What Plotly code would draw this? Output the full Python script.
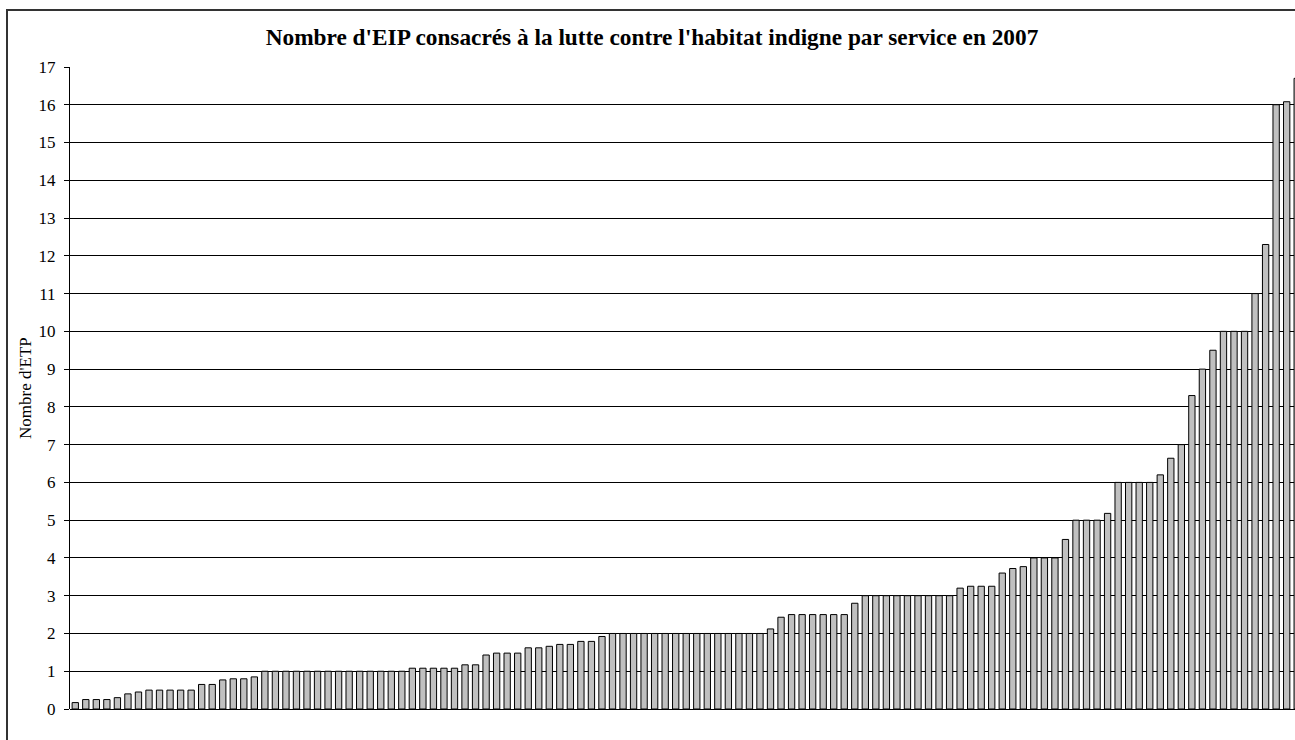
import plotly.graph_objects as go

title_text = "Nombre d'EIP consacrés à la lutte contre l'habitat indigne par service en 2007"
y_title = "Nombre d'ETP"

etp = [
    0.17, 0.25, 0.25, 0.25, 0.30, 0.40, 0.45, 0.50, 0.50, 0.50,
    0.50, 0.50, 0.65, 0.65, 0.77, 0.80, 0.80, 0.85, 1.00, 1.00,
    1.00, 1.00, 1.00, 1.00, 1.00, 1.00, 1.00, 1.00, 1.00, 1.00,
    1.00, 1.00, 1.08, 1.08, 1.08, 1.08, 1.08, 1.17, 1.17, 1.43,
    1.48, 1.48, 1.48, 1.62, 1.62, 1.66, 1.71, 1.71, 1.79, 1.79,
    1.92, 2.00, 2.00, 2.00, 2.00, 2.00, 2.00, 2.00, 2.00, 2.00,
    2.00, 2.00, 2.00, 2.00, 2.00, 2.00, 2.12, 2.43, 2.50, 2.50,
    2.50, 2.50, 2.50, 2.50, 2.80, 3.00, 3.00, 3.00, 3.00, 3.00,
    3.00, 3.00, 3.00, 3.00, 3.20, 3.25, 3.25, 3.25, 3.60, 3.72,
    3.77, 4.00, 4.00, 4.00, 4.49, 5.00, 5.00, 5.00, 5.18, 6.00,
    6.00, 6.00, 6.00, 6.20, 6.64, 7.00, 8.30, 9.00, 9.50, 10.00,
    10.00, 10.00, 11.00, 12.30, 16.00, 16.08, 16.70,
]
services = list(range(len(etp)))
y_ticks = list(range(0, 18))

W, H = 1295, 740
L, R, T, B = 70, 0, 67, 31
plot_w = W - L - R
plot_h = H - T - B
step = 10.534  # px per category
x_right = plot_w / step - 0.5
SERIF = "Liberation Serif, Times New Roman, serif"


def px_x(px):
    return (px - L) / plot_w


def px_y(py):
    return (H - B - py) / plot_h


fig = go.Figure()
fig.add_trace(go.Bar(
    x=services, y=etp, width=0.6,
    marker=dict(color="#C0C0C0", line=dict(color="#000000", width=1)),
    hoverinfo="y",
))

fig.update_layout(
    width=W, height=H,
    margin=dict(l=L, r=R, t=T, b=B, pad=0),
    paper_bgcolor="white", plot_bgcolor="white",
    showlegend=False,
    font=dict(family=SERIF, color="black"),
    title=dict(
        text=title_text, font=dict(size=23.3, family=SERIF, color="black", weight="bold"),
        x=px_x(652), xref="paper", xanchor="center",
        y=1 - 37 / H, yref="container", yanchor="middle",
    ),
    xaxis=dict(
        range=[-0.5, x_right], showticklabels=False, ticks="",
        showgrid=False, zeroline=False, showline=False,
    ),
    yaxis=dict(
        range=[0, 17], tickvals=y_ticks, ticktext=[str(v) for v in y_ticks],
        showgrid=True, gridcolor="#000000", gridwidth=1,
        showline=True, linecolor="#000000", linewidth=1,
        ticks="outside", ticklen=5, tickcolor="#000000",
        ticklabelstandoff=5,
        tickfont=dict(size=17, family=SERIF, color="black"),
        zeroline=True, zerolinecolor="#000000", zerolinewidth=1,
    ),
    annotations=[dict(
        text=y_title, textangle=-90, showarrow=False,
        xref="paper", yref="paper", x=px_x(25), y=0.5,
        xanchor="center", yanchor="middle",
        font=dict(size=17, family=SERIF, color="black"),
    )],
    shapes=[dict(
        type="rect", xref="paper", yref="paper",
        x0=px_x(7), x1=px_x(1320), y0=px_y(760), y1=px_y(10),
        line=dict(color="#333333", width=2), fillcolor="rgba(0,0,0,0)", layer="below",
    )],
)

fig.write_html(
    "out.html",
    config={"displayModeBar": False},
    post_script="document.body.style.margin='0';document.body.style.overflow='hidden';",
)
